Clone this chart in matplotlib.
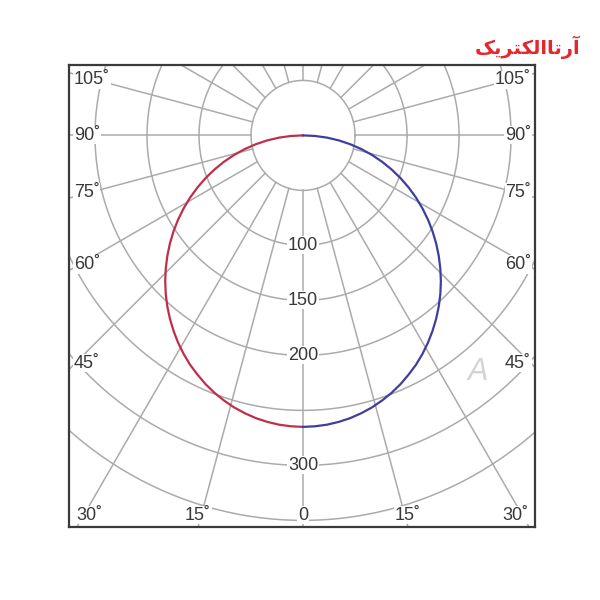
import numpy as np
import matplotlib
matplotlib.use("Agg")
import matplotlib.pyplot as plt

# polar photometric grid (cd rings, 15 deg spokes, 0 deg = straight down)
RINGS = [50, 100, 150, 200, 250, 300, 350]
RING_LABELS = [100, 150, 200, 300]
SPOKES = list(range(0, 360, 15))
SIDE_ANGLES = [105, 90, 75, 60, 45]
BOTTOM_ANGLES = [-30, -15, 0, 15, 30]

# luminous intensity (cd), gamma 0..90 deg
GAMMA = [0, 2.5, 5, 7.5, 10, 12.5, 15, 17.5, 20, 22.5, 25, 27.5, 30, 32.5,
         35, 37.5, 40, 42.5, 45, 47.5, 50, 52.5, 55, 57.5, 60, 62.5, 65,
         67.5, 70, 72.5, 75, 77.5, 80, 82.5, 85, 87.5, 90]
INTENSITY = [265, 264.7, 264, 262.7, 261, 258.7, 256, 252.7, 249, 244.8,
             240, 235.1, 229.5, 223.5, 217, 210.2, 203, 195.4, 187.4, 179,
             170.3, 161.3, 152, 142.4, 132.5, 122.4, 112, 101.4, 90.6, 79.7,
             68.6, 57.4, 46, 34.6, 23.1, 11.6, 0]

LOGO = "\uFB8F\uFBFE\uFEAE\uFE98\uFB91\uFEDF\uFE8D\uFE8E\uFE97\uFEAD\uFE81"

XLIM = (-225, 223)
YLIM = (-356, 64)
GRID = "#ababab"
TXT = "#383838"
DEG = "\u02DA"

plt.rcParams["font.family"] = ["Liberation Sans", "DejaVu Sans"]

fig = plt.figure(figsize=(6, 6), dpi=100)
ax = fig.add_axes([69 / 600, 73 / 600, 466 / 600, 462 / 600])
ax.set_xlim(*XLIM)
ax.set_ylim(*YLIM)

# px per unit in each direction; spokes keep their true on-screen angle
sx = 466 / (XLIM[1] - XLIM[0])
sy = 462 / (YLIM[1] - YLIM[0])
k = sx / sy

t = np.linspace(0, 2 * np.pi, 400)
for r in RINGS:
    ax.plot(r * np.cos(t), r * np.sin(t), color=GRID, lw=1.1, zorder=1)

for a in SPOKES:
    ar = np.deg2rad(a)
    dx, dy = np.sin(ar), -np.cos(ar) * k
    rin = 50 / np.hypot(dx, dy)
    ax.plot([rin * dx, 900 * dx], [rin * dy, 900 * dy], color=GRID, lw=1.1, zorder=1)

label_box = dict(facecolor="white", edgecolor="none", pad=0.4)

# ring labels down the 0 deg spoke
for v in RING_LABELS:
    ax.text(0, -v, str(v), ha="center", va="center", fontsize=13, color=TXT,
            bbox=label_box, zorder=3)

# angle labels on the left/right frame edges
for a in SIDE_ANGLES:
    ar = np.deg2rad(a)
    yl = -abs(XLIM[0]) / np.tan(ar) * k if a != 90 else 0.0
    if a < 90:
        yl += 6 / sy
    yl = min(yl, YLIM[1] - 15 / sy)
    for side in (-1, 1):
        xl = XLIM[0] + 5 / sx if side < 0 else XLIM[1] - 4 / sx
        ax.text(xl, yl, f"{a}{DEG}", ha="left" if side < 0 else "right",
                va="center", fontsize=13, color=TXT, bbox=label_box, zorder=3)

# angle labels along the bottom edge, kept inside the frame
for a in BOTTOM_ANGLES:
    ar = np.deg2rad(a)
    xb = -YLIM[0] * np.tan(ar) / k
    lim = 20 / sx
    xb = float(np.clip(xb, XLIM[0] + lim, XLIM[1] - lim))
    lab = "0" if a == 0 else f"{abs(a)}{DEG}"
    ax.text(xb, YLIM[0] + 12 / sy, lab, ha="center", va="center", fontsize=13,
            color=TXT, bbox=label_box, zorder=3)

g = np.deg2rad(np.array(GAMMA))
I = np.array(INTENSITY)
ax.plot(-I * np.sin(g), -I * np.cos(g), color="#bf2f4a", lw=1.6, zorder=4)
ax.plot(I * np.sin(g), -I * np.cos(g), color="#3e3e9e", lw=1.6, zorder=4)

ax.set_xticks([])
ax.set_yticks([])
for sp in ax.spines.values():
    sp.set_color("#3a3a3a")
    sp.set_linewidth(1.6)

fig.text(478 / 600, 1 - 372 / 600, "A", fontsize=22, color="#d4d4d4",
         style="italic", ha="center", va="center", zorder=5)
fig.text(528 / 600, 1 - 47 / 600, LOGO, fontsize=14, color="#e5262c",
         fontweight="bold", ha="center", va="center",
         family=["DejaVu Sans"])

fig.savefig("out.png", dpi=100, facecolor="white")
